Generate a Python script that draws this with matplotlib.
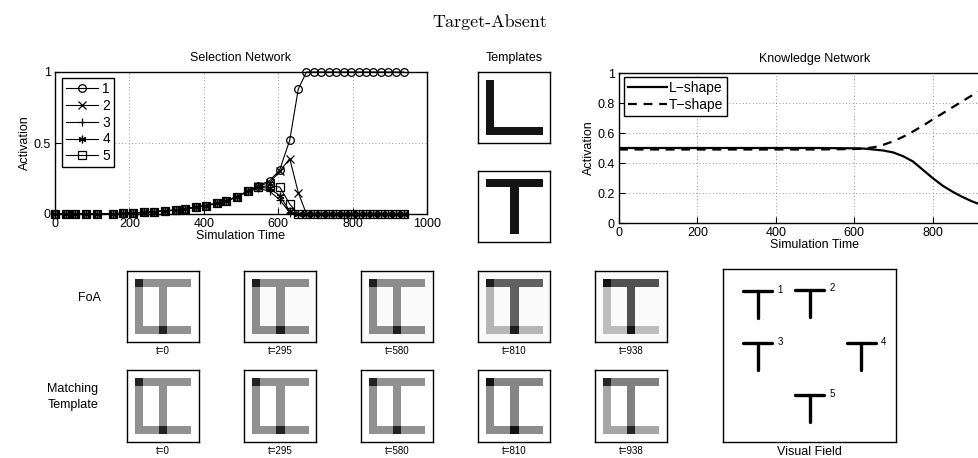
import numpy as np
import matplotlib
matplotlib.use('Agg')
import matplotlib.pyplot as plt
from matplotlib.ticker import FormatStrFormatter

plt.rcParams['font.family'] = ['Liberation Sans', 'DejaVu Sans']

# ---------------- data ----------------
t_sel = [0, 29, 54, 83, 112, 155, 183, 209, 238, 266, 295, 324, 349, 378, 406,
         435, 460, 489, 518, 547, 577, 604, 631, 654, 676, 696, 716, 736, 756,
         776, 796, 816, 836, 856, 876, 896, 917, 938]
ramp = [0, 0, 0, 0, 0, 0.002, 0.005, 0.007, 0.012, 0.016, 0.021, 0.028, 0.038,
        0.047, 0.059, 0.075, 0.094, 0.12, 0.16]
sel_1 = ramp + [0.20, 0.235, 0.31, 0.52, 0.88] + [1.0] * 14
sel_2 = ramp + [0.20, 0.22, 0.30, 0.39, 0.15] + [0.0] * 14
sel_3 = ramp + [0.18, 0.16, 0.10, 0.01, 0.0] + [0.0] * 14
sel_4 = ramp + [0.19, 0.18, 0.13, 0.02, 0.0] + [0.0] * 14
sel_5 = ramp + [0.19, 0.20, 0.19, 0.07, 0.0] + [0.0] * 14
sel_labels = ['1', '2', '3', '4', '5']

t_kn = [0, 100, 200, 300, 400, 500, 600, 625, 650, 675, 700, 725, 750, 775,
        800, 825, 850, 875, 900, 920, 938]
kn_L = [0.5, 0.5, 0.5, 0.5, 0.5, 0.5, 0.498, 0.496, 0.49, 0.483, 0.47, 0.445,
        0.41, 0.355, 0.30, 0.25, 0.21, 0.175, 0.145, 0.125, 0.11]
kn_T = [0.49, 0.49, 0.49, 0.49, 0.49, 0.49, 0.493, 0.497, 0.505, 0.522, 0.545,
        0.575, 0.61, 0.648, 0.69, 0.73, 0.77, 0.81, 0.85, 0.88, 0.91]
kn_labels = ['L\u2212shape', 'T\u2212shape']

frame_times = [0, 295, 580, 810, 938]
foa_L = [0.43, 0.43, 0.43, 0.27, 0.24]
foa_T = [0.43, 0.43, 0.43, 0.60, 0.66]
foa_bg = [0.0, 0.02, 0.02, 0.02, 0.02]
match_L = [0.43, 0.43, 0.43, 0.45, 0.35]
match_T = [0.43, 0.43, 0.43, 0.48, 0.50]

vf_x = [20, 50, 20, 80, 50]
vf_y = [13, 12, 43, 43, 73]
vf_labels = ['1', '2', '3', '4', '5']

# ---------------- figure ----------------
W, H = 979, 458
fig = plt.figure(figsize=(W / 100, H / 100), dpi=100)


def px(x0, y0, x1, y1):
    return [x0 / W, 1 - y1 / H, (x1 - x0) / W, (y1 - y0) / H]


FS = 9


def style_plot(ax):
    ax.grid(True, linestyle=(0, (1, 3)), color='0.45', linewidth=0.6)
    ax.tick_params(direction='in', length=4, width=0.8, labelsize=FS, pad=3,
                   top=False, right=False)
    for s in ax.spines.values():
        s.set_linewidth(1.0)
    ax.yaxis.set_major_formatter(FormatStrFormatter('%g'))
    ax.set_xlabel('Simulation Time', fontsize=FS, labelpad=0)
    ax.set_ylabel('Activation', fontsize=FS, labelpad=2)


fig.text(0.5, 1 - 22 / H, 'Target-Absent', family='cmr10', fontsize=13,
         ha='center', va='center')

# Selection network
ax1 = fig.add_axes(px(55, 72, 427, 214))
markers = ['o', 'x', '+', (6, 2, 0), 's']
for vals, m, lab in zip([sel_1, sel_2, sel_3, sel_4, sel_5], markers, sel_labels):
    ax1.plot(t_sel, vals, color='black', lw=0.8, marker=m, ms=5.5, mew=0.9,
             mfc='none', label=lab, clip_on=False)
ax1.set_xlim(0, 1000)
ax1.set_ylim(0, 1)
ax1.set_xticks([0, 200, 400, 600, 800, 1000])
ax1.set_yticks([0, 0.5, 1])
style_plot(ax1)
ax1.set_title('Selection Network', fontsize=FS, pad=8)
leg = ax1.legend(loc='upper left', bbox_to_anchor=(0.019, 0.958), borderaxespad=0,
                 fontsize=FS + 1, handlelength=2.3, handletextpad=0.3,
                 labelspacing=0.2, borderpad=0.3, fancybox=False, framealpha=1,
                 edgecolor='black')
leg.get_frame().set_linewidth(1.0)

# Knowledge network
ax2 = fig.add_axes(px(619, 73, 1011, 223))
ax2.plot(t_kn, kn_L, color='black', lw=1.6, label=kn_labels[0])
ax2.plot(t_kn, kn_T, color='black', lw=1.6, ls=(0, (4, 3)), label=kn_labels[1])
ax2.set_xlim(0, 1000)
ax2.set_ylim(0, 1)
ax2.set_xticks([0, 200, 400, 600, 800])
ax2.set_yticks([0, 0.2, 0.4, 0.6, 0.8, 1])
style_plot(ax2)
ax2.set_title('Knowledge Network', fontsize=FS, pad=8)
leg2 = ax2.legend(loc='upper left', bbox_to_anchor=(0.013, 0.973), borderaxespad=0,
                  fontsize=FS + 1, handlelength=2.8, handletextpad=0.1,
                  labelspacing=0.2, borderpad=0.3, fancybox=False, framealpha=1,
                  edgecolor='black')
leg2.get_frame().set_linewidth(1.0)

# masks for images (9x9 grid)
maskL = np.zeros((9, 9), bool)
maskL[1:8, 1] = True
maskL[7, 1:8] = True
maskT = np.zeros((9, 9), bool)
maskT[1, 1:8] = True
maskT[1:8, 4] = True


def img_axes(rect):
    ax = fig.add_axes(rect)
    ax.set_xticks([])
    ax.set_yticks([])
    for s in ax.spines.values():
        s.set_linewidth(1.0)
    return ax


# Templates
axL = img_axes(px(478, 72, 550, 143))
axL.imshow(1 - 0.92 * maskL, cmap='gray', vmin=0, vmax=1, interpolation='nearest',
           aspect='auto')
axL.set_title('Templates', fontsize=FS, pad=8)
axT = img_axes(px(478, 171, 550, 242))
axT.imshow(1 - 0.92 * maskT, cmap='gray', vmin=0, vmax=1, interpolation='nearest',
           aspect='auto')

# FoA and matching template rows
x_starts = [127, 244, 361, 478, 595]
for i, tt in enumerate(frame_times):
    x0 = x_starts[i]
    a = img_axes(px(x0, 271, x0 + 72, 342))
    im = np.clip(1 - foa_bg[i] - foa_L[i] * maskL - foa_T[i] * maskT, 0, 1)
    a.imshow(im, cmap='gray', vmin=0, vmax=1, interpolation='nearest', aspect='auto')
    a.set_xlabel(f't={tt}', fontsize=7, labelpad=3)
    b = img_axes(px(x0, 370, x0 + 72, 442))
    im2 = np.clip(1 - match_L[i] * maskL - match_T[i] * maskT, 0, 1)
    b.imshow(im2, cmap='gray', vmin=0, vmax=1, interpolation='nearest', aspect='auto')
    b.set_xlabel(f't={tt}', fontsize=7, labelpad=3)

fig.text(89 / W, 1 - 298 / H, 'FoA', fontsize=FS, ha='center', va='center')
fig.text(73 / W, 1 - 397 / H, 'Matching\nTemplate', fontsize=FS, ha='center',
         va='center', linespacing=1.4)

# Visual field
axv = img_axes(px(723, 269, 896, 442))
axv.set_xlim(0, 100)
axv.set_ylim(100, 0)
hw, hh = 8.4, 15.6
for x, y, lab in zip(vf_x, vf_y, vf_labels):
    axv.plot([x - hw, x + hw], [y, y], color='black', lw=2.4, solid_capstyle='round')
    axv.plot([x, x], [y, y + hh], color='black', lw=2.4, solid_capstyle='round')
    axv.text(x + hw + 3, y - 1, lab, fontsize=7, ha='left', va='center')
axv.set_xlabel('Visual Field', fontsize=FS, labelpad=3)

fig.savefig('out.png', dpi=100)
